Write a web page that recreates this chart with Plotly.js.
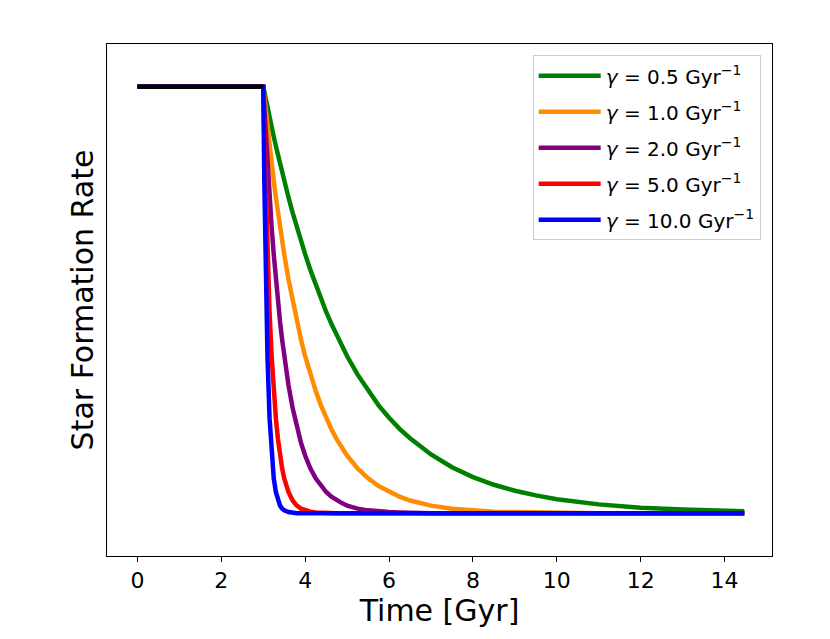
<!DOCTYPE html>
<html>
<head>
<meta charset="utf-8">
<script src="https://cdn.plot.ly/plotly-3.0.1.min.js"></script>
<style>html,body{margin:0;padding:0;background:#fff;}#chart{width:830px;height:639px;}</style>
</head>
<body>
<div id="chart"></div>
<script>
// Time grid [Gyr]
const time = [0, 3.0, 3.025, 3.05, 3.075, 3.1, 3.15, 3.2, 3.25, 3.3, 3.35, 3.4, 3.45, 3.5, 3.6, 3.7, 3.8, 3.9, 4.0,
  4.125, 4.25, 4.375, 4.5, 4.625, 4.75, 4.875, 5.0, 5.25, 5.5, 5.75, 6.0, 6.25, 6.5, 6.75, 7.0,
  7.5, 8.0, 8.5, 9.0, 9.5, 10.0, 11.0, 12.0, 13.0, 14.47];
// Normalised star formation rate for each quenching rate
const sfrGamma05 = [1, 1, 0.988, 0.975, 0.963, 0.951, 0.928, 0.905, 0.883, 0.861, 0.84, 0.819, 0.799, 0.779, 0.741, 0.705, 0.67, 0.638, 0.607,
  0.57, 0.535, 0.503, 0.472, 0.444, 0.417, 0.392, 0.368, 0.325, 0.287, 0.253, 0.224, 0.198, 0.176, 0.156, 0.138,
  0.108, 0.085, 0.067, 0.053, 0.042, 0.033, 0.021, 0.013, 0.009, 0.005];
const sfrGamma1 = [1, 1, 0.975, 0.951, 0.928, 0.905, 0.861, 0.819, 0.779, 0.741, 0.705, 0.67, 0.638, 0.607, 0.549, 0.497, 0.449, 0.407, 0.368,
  0.325, 0.287, 0.253, 0.223, 0.197, 0.174, 0.153, 0.135, 0.105, 0.082, 0.064, 0.05, 0.039, 0.03, 0.024, 0.018,
  0.011, 0.007, 0.004, 0.003, 0.002, 0.001, 0, 0, 0, 0];
const sfrGamma2 = [1, 1, 0.951, 0.905, 0.861, 0.819, 0.741, 0.67, 0.607, 0.549, 0.497, 0.449, 0.407, 0.368, 0.301, 0.247, 0.202, 0.165, 0.135,
  0.105, 0.082, 0.064, 0.05, 0.039, 0.03, 0.024, 0.018, 0.011, 0.007, 0.004, 0.003, 0.002, 0.001, 0.001, 0,
  0, 0, 0, 0, 0, 0, 0, 0, 0, 0];
const sfrGamma5 = [1, 1, 0.883, 0.779, 0.687, 0.607, 0.472, 0.368, 0.287, 0.223, 0.174, 0.135, 0.105, 0.082, 0.05, 0.03, 0.018, 0.011, 0.007,
  0.004, 0.002, 0.001, 0.001, 0, 0, 0, 0, 0, 0, 0, 0, 0, 0, 0, 0,
  0, 0, 0, 0, 0, 0, 0, 0, 0, 0];
const sfrGamma10 = [1, 1, 0.779, 0.607, 0.472, 0.368, 0.223, 0.135, 0.082, 0.05, 0.03, 0.018, 0.011, 0.007, 0.003, 0.001, 0, 0, 0,
  0, 0, 0, 0, 0, 0, 0, 0, 0, 0, 0, 0, 0, 0, 0, 0,
  0, 0, 0, 0, 0, 0, 0, 0, 0, 0];
// Constant (pre-quenching) phase
const constTime = [0, 3.0];
const constSfr = [1, 1];

const seriesNames = [
  '<i>γ</i> = 0.5 Gyr<sup>−1</sup>',
  '<i>γ</i> = 1.0 Gyr<sup>−1</sup>',
  '<i>γ</i> = 2.0 Gyr<sup>−1</sup>',
  '<i>γ</i> = 5.0 Gyr<sup>−1</sup>',
  '<i>γ</i> = 10.0 Gyr<sup>−1</sup>'
];
const seriesValues = [sfrGamma05, sfrGamma1, sfrGamma2, sfrGamma5, sfrGamma10];
const seriesColors = ['green', 'darkorange', 'purple', 'red', 'blue'];
const xTicks = [0, 2, 4, 6, 8, 10, 12, 14];

const traces = seriesValues.map((v, i) => ({
  x: time, y: v, type: 'scatter', mode: 'lines',
  name: seriesNames[i], legendgroup: 'g' + i,
  line: {color: seriesColors[i], width: 4.5}
}));
traces.push({
  x: constTime, y: constSfr, type: 'scatter', mode: 'lines',
  showlegend: false, line: {color: 'black', width: 4.5}
});

const font = 'DejaVu Sans, Liberation Sans, sans-serif';
const layout = {
  width: 830, height: 639,
  margin: {l: 107, r: 58, t: 44, b: 83},
  paper_bgcolor: 'white', plot_bgcolor: 'white',
  font: {family: font, color: 'black'},
  showlegend: true,
  legend: {
    x: 0.983, y: 0.978, xanchor: 'right', yanchor: 'top',
    bgcolor: 'white', bordercolor: '#cccccc', borderwidth: 1,
    font: {family: font, size: 20, color: 'black'},
    itemwidth: 62,
    tracegroupgap: 7
  },
  xaxis: {
    range: [-0.726, 15.13],
    tickvals: xTicks, ticktext: xTicks.map(String),
    ticks: 'outside', ticklen: 5, tickwidth: 1, tickcolor: 'black',
    tickfont: {family: font, size: 22, color: 'black'},
    showline: true, linecolor: 'black', linewidth: 1, mirror: true,
    showgrid: false, zeroline: false,
    title: {text: 'Time [Gyr]', font: {family: font, size: 30, color: 'black'}, standoff: 6}
  },
  yaxis: {
    range: [-0.1, 1.1],
    showticklabels: false, ticks: '',
    showline: true, linecolor: 'black', linewidth: 1, mirror: true,
    showgrid: false, zeroline: false,
    title: {text: 'Star Formation Rate', font: {family: font, size: 30, color: 'black'}, standoff: 3}
  }
};

Plotly.newPlot('chart', traces, layout, {displayModeBar: false, staticPlot: true});
</script>
</body>
</html>
